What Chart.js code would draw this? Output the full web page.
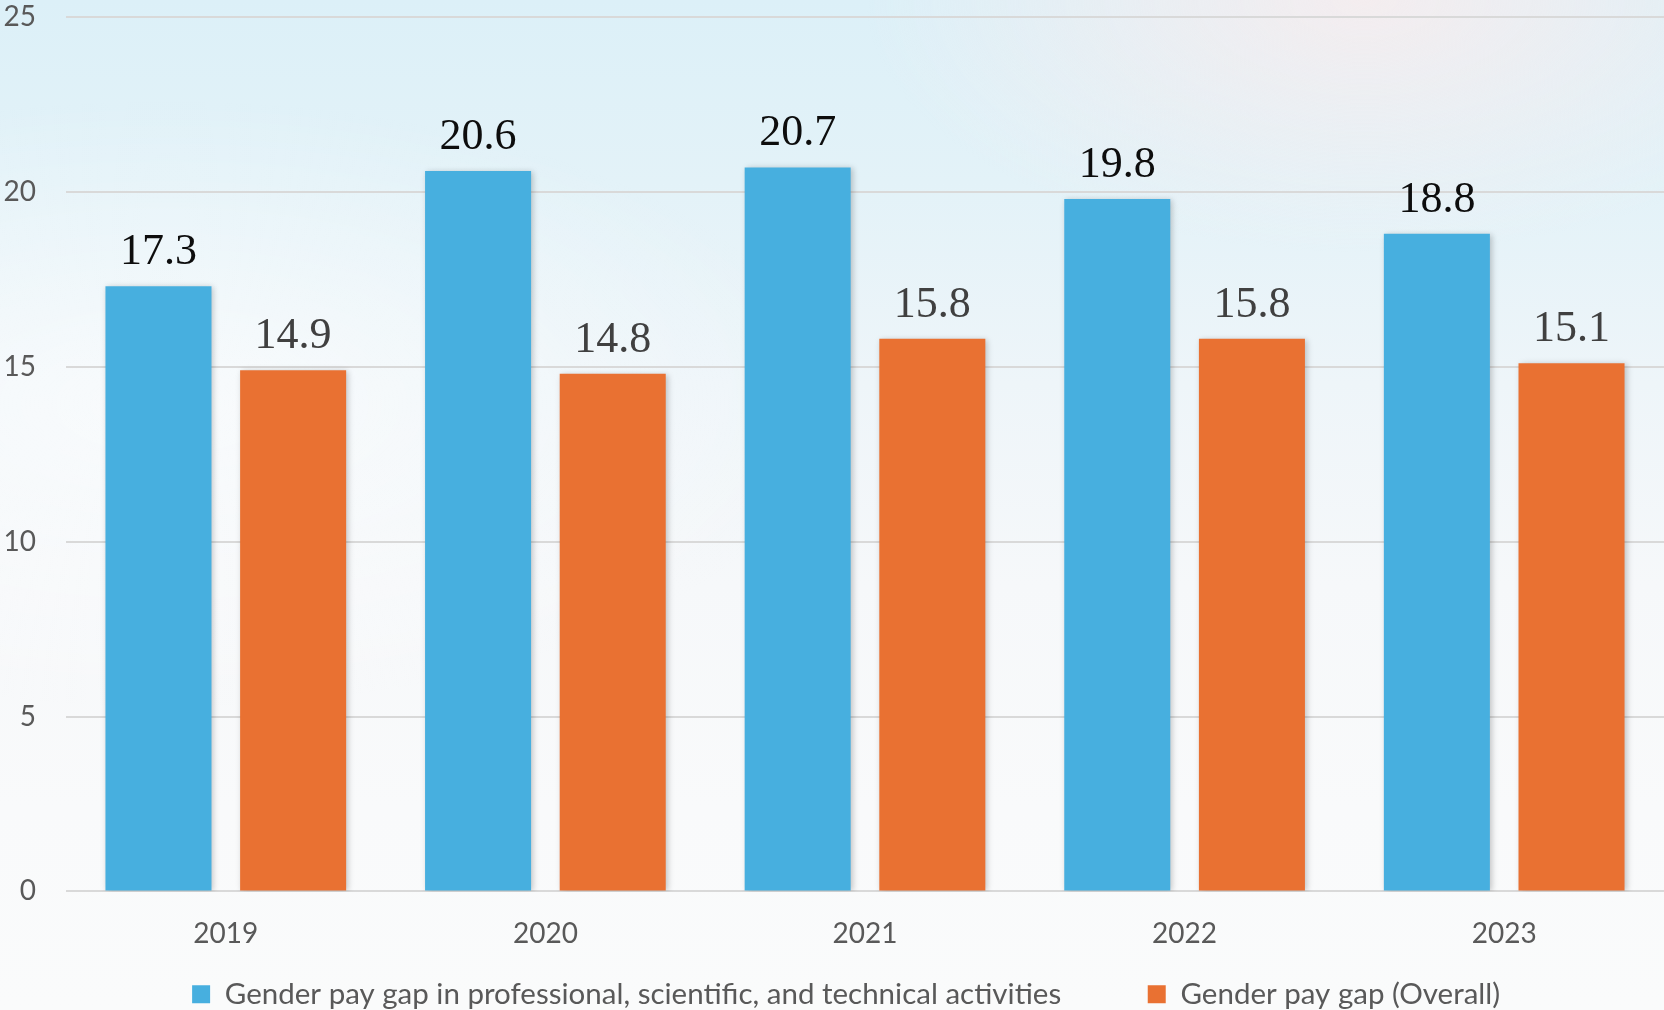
<!DOCTYPE html>
<html>
<head>
<meta charset="utf-8">
<script src="https://cdn.jsdelivr.net/npm/chart.js@4.4.1/dist/chart.umd.min.js"></script>
<style>
  html, body { margin: 0; padding: 0; overflow: hidden; width: 1664px; height: 1010px; }
  body {
    background:
      radial-gradient(ellipse 30% 25% at 82% 0%, rgba(252,236,236,0.75), rgba(252,236,236,0) 100%),
      radial-gradient(ellipse 40% 30% at 10% 40%, rgba(255,255,255,0.6), rgba(255,255,255,0) 100%),
      linear-gradient(180deg, #dcf0f8 0%, #e3f2f8 18%, #eef5f9 38%, #f6f8fa 58%, #f9fafb 80%, #fafbfb 100%);
  }
  #c { position: absolute; left: 0; top: 0; }
</style>
</head>
<body>
<canvas id="c" width="1664" height="1019"></canvas>
<script>
const categories = ['2019', '2020', '2021', '2022', '2023'];
const seriesNames = ['Gender pay gap in professional, scientific, and technical activities', 'Gender pay gap (Overall)'];
const professionalGap = [17.3, 20.6, 20.7, 19.8, 18.8];
const overallGap = [14.9, 14.8, 15.8, 15.8, 15.1];
const yTicks = [0, 5, 10, 15, 20, 25];

const BLUE = '#47afdf';
const ORANGE = '#e97132';
const LABEL_COLORS = ['#0d0d0d', '#404040'];

const shadowPlugin = {
  id: 'barShadow',
  beforeDatasetsDraw(chart) {
    const ctx = chart.ctx;
    ctx.save();
    ctx.shadowColor = 'rgba(0,0,0,0.22)';
    ctx.shadowBlur = 6;
    ctx.shadowOffsetX = 2;
    ctx.shadowOffsetY = 1;
  },
  afterDatasetsDraw(chart) {
    chart.ctx.restore();
  }
};

const valueLabels = {
  id: 'valueLabels',
  afterDatasetsDraw(chart) {
    const ctx = chart.ctx;
    ctx.save();
    ctx.font = '44px "Liberation Serif", serif';
    ctx.textAlign = 'center';
    ctx.textBaseline = 'alphabetic';
    chart.data.datasets.forEach((ds, i) => {
      const meta = chart.getDatasetMeta(i);
      ctx.fillStyle = LABEL_COLORS[i];
      meta.data.forEach((el, j) => {
        ctx.fillText(ds.data[j].toFixed(1), el.x, el.y - 22);
      });
    });
    ctx.restore();
  }
};

new Chart(document.getElementById('c'), {
  type: 'bar',
  data: {
    labels: categories,
    datasets: [
      { label: seriesNames[0], data: professionalGap, backgroundColor: BLUE, borderWidth: 0 },
      { label: seriesNames[1], data: overallGap, backgroundColor: ORANGE, borderWidth: 0 }
    ]
  },
  options: {
    responsive: false,
    animation: false,
    categoryPercentage: 0.8426,
    barPercentage: 0.7875,
    layout: { padding: { top: 17, left: 0, right: 0, bottom: 0 } },
    plugins: {
      tooltip: { enabled: false },
      legend: {
        position: 'bottom',
        fullSize: false,
        labels: {
          font: { family: 'Lato', size: 29.5 },
          color: '#595959',
          boxWidth: 18,
          boxHeight: 18,
          padding: 3.5,
          generateLabels(chart) {
            const items = Chart.defaults.plugins.legend.labels.generateLabels(chart);
            items.forEach((it, i) => {
              it.text = it.text + '\u00a0'.repeat(i === 0 ? 11 : 5);
              it.fontColor = '#595959';
            });
            return items;
          }
        }
      }
    },
    scales: {
      x: {
        grid: { display: false, drawTicks: false },
        border: { display: false },
        ticks: { font: { family: 'Lato', size: 28 }, color: '#595959', padding: 25.5 }
      },
      y: {
        min: 0,
        max: 25,
        afterBuildTicks(scale) { scale.ticks = yTicks.map(v => ({ value: v })); },
        afterFit(scale) { scale.width = 66; scale.paddingTop = 0; scale.paddingBottom = 0; },
        grid: { color: '#d9d9d9', lineWidth: 2, drawTicks: false },
        border: { display: false },
        ticks: { font: { family: 'Lato', size: 28 }, color: '#595959', padding: 30 }
      }
    }
  },
  plugins: [shadowPlugin, valueLabels]
});
</script>
</body>
</html>
